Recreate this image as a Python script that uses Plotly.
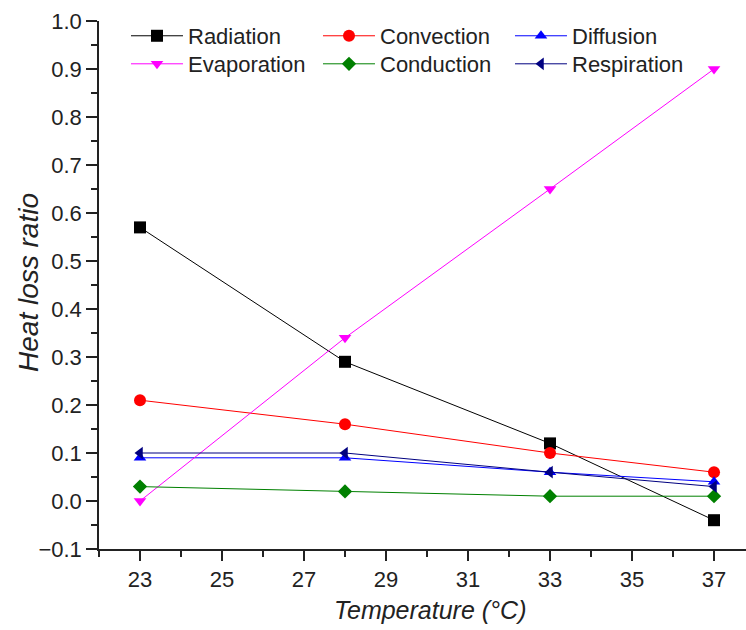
import plotly.graph_objects as go

# Air temperature (°C)
temperature = [23, 28, 33, 37]

# Share of total heat loss carried by each pathway
radiation = [0.57, 0.29, 0.12, -0.04]
convection = [0.21, 0.16, 0.10, 0.06]
diffusion = [0.09, 0.09, 0.06, 0.04]
evaporation = [0.00, 0.34, 0.65, 0.90]
conduction = [0.03, 0.02, 0.01, 0.01]
respiration = [0.10, 0.10, 0.06, 0.03]

x_ticks = [23, 25, 27, 29, 31, 33, 35, 37]

FONT = "Liberation Sans, Arial, sans-serif"
INK = "#222222"

series = [
    ("Radiation", radiation, "#000000", "square", 12, "legend"),
    ("Convection", convection, "#ff0000", "circle", 12, "legend"),
    ("Diffusion", diffusion, "#0000ff", "triangle-up", 11, "legend"),
    ("Evaporation", evaporation, "#ff00ff", "triangle-down", 11, "legend2"),
    ("Conduction", conduction, "#008000", "diamond", 11, "legend2"),
    ("Respiration", respiration, "#000080", "triangle-left", 11, "legend2"),
]

fig = go.Figure()
for name, values, color, symbol, size, leg in series:
    fig.add_trace(go.Scatter(
        x=temperature, y=values, name=name, mode="lines+markers",
        line=dict(color=color, width=1),
        marker=dict(color=color, symbol=symbol, size=size, line=dict(width=0)),
        legend=leg,
    ))

# two one-row legends stacked to give a 3 x 2 key inside the plot
legend_common = dict(
    orientation="h", xref="container", yref="container",
    xanchor="left", yanchor="middle",
    font=dict(family=FONT, size=22, color=INK),
    itemwidth=52, entrywidth=125, entrywidthmode="pixels",
    bgcolor="rgba(0,0,0,0)", tracegroupgap=0, itemclick=False,
)

axis_common = dict(
    ticks="outside", tickwidth=1.5, tickcolor=INK,
    showline=True, linewidth=1.5, linecolor=INK,
    showgrid=False, zeroline=False,
    tickfont=dict(family=FONT, size=22, color=INK),
)

fig.update_layout(
    width=746, height=630,
    margin=dict(l=99, r=0, t=21, b=81, autoexpand=False),
    plot_bgcolor="white", paper_bgcolor="white",
    font=dict(family=FONT, size=22, color=INK),
    showlegend=True,
    legend=dict(x=0.1689, y=0.9429, **legend_common),
    legend2=dict(x=0.1689, y=0.8984, **legend_common),
    xaxis=dict(
        range=[22, 37.78], tickvals=x_ticks, ticklen=10, **axis_common,
        minor=dict(tick0=22, dtick=1, ticks="outside", ticklen=6,
                   tickwidth=1.5, tickcolor=INK, showgrid=False),
    ),
    yaxis=dict(
        range=[-0.1, 1.0], dtick=0.1, tick0=0, tickformat=".1f",
        ticklen=11, **axis_common,
        minor=dict(dtick=0.05, tick0=0, ticks="outside", ticklen=6,
                   tickwidth=1.5, tickcolor=INK, showgrid=False),
    ),
    annotations=[
        dict(text="<i>Temperature (°C)</i>", xref="paper", yref="paper",
             x=0.5116, y=-0.1155, xanchor="center", yanchor="middle",
             showarrow=False, font=dict(family=FONT, size=25, color=INK)),
        dict(text="<i>Heat loss ratio</i>", xref="paper", yref="paper",
             x=-0.1082, y=0.5057, xanchor="center", yanchor="middle",
             textangle=-90, showarrow=False,
             font=dict(family=FONT, size=28, color=INK)),
    ],
)

fig.write_html("out.html")
